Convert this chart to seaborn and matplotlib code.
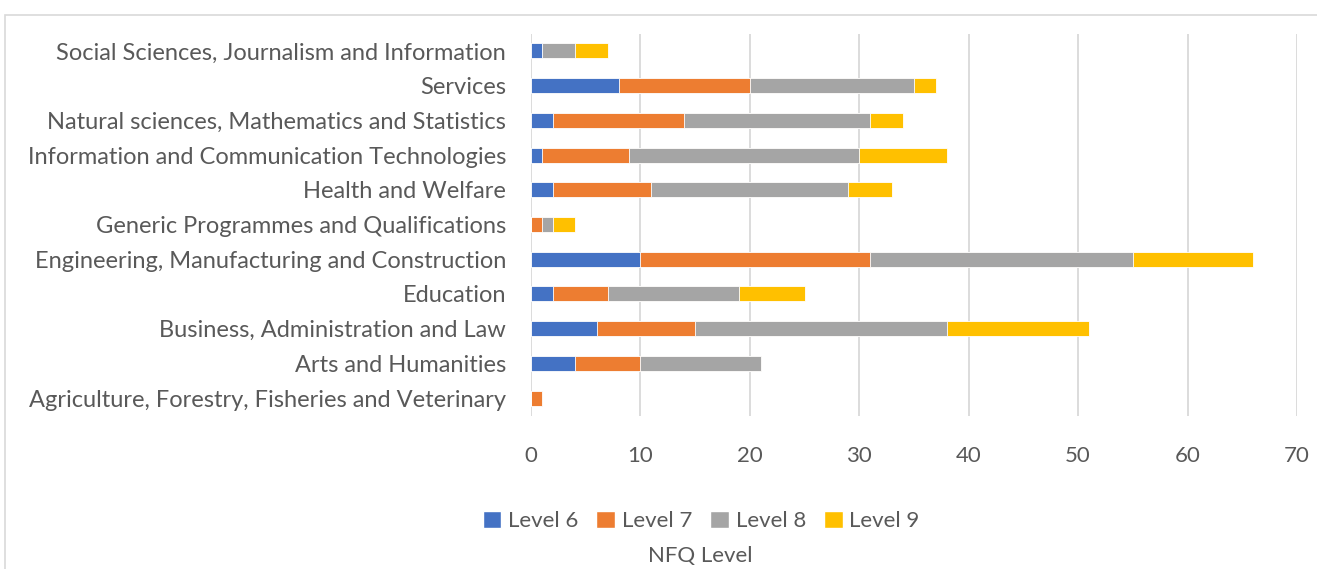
import numpy as np
import pandas as pd
import seaborn as sns
import matplotlib.pyplot as plt
from matplotlib.patches import Patch, Rectangle

# data, top to bottom as shown in the chart
fields = ["Social Sciences, Journalism and Information",
          "Services",
          "Natural sciences, Mathematics and Statistics",
          "Information and Communication Technologies",
          "Health and Welfare",
          "Generic Programmes and Qualifications",
          "Engineering, Manufacturing and Construction",
          "Education",
          "Business, Administration and Law",
          "Arts and Humanities",
          "Agriculture, Forestry, Fisheries and Veterinary"]
level6 = [1, 8, 2, 1, 2, 0, 10, 2, 6, 4, 0]
level7 = [0, 12, 12, 8, 9, 1, 21, 5, 9, 6, 1]
level8 = [3, 15, 17, 21, 18, 1, 24, 12, 23, 11, 0]
level9 = [3, 2, 3, 8, 4, 2, 11, 6, 13, 0, 0]
levels = ["Level 6", "Level 7", "Level 8", "Level 9"]
colors = ["#4472C4", "#ED7D31", "#A5A5A5", "#FFC000"]

sns.set_style("white")
plt.rcParams['font.family'] = ['Lato', 'DejaVu Sans']
txt = "#595959"
fs = 16

df = pd.DataFrame({"field": fields, "Level 6": level6, "Level 7": level7,
                   "Level 8": level8, "Level 9": level9})
cum = df[levels].cumsum(axis=1)
cum["field"] = df["field"]

fig = plt.figure(figsize=(13.17, 5.69), dpi=100)
ax = fig.add_axes([531/1317, 1-415.5/569, (1297-531)/1317, (415.5-33.5)/569])

# draw stacked bars from the total down so each layer sits on top of the previous
for lev, col in reversed(list(zip(levels, colors))):
    sns.barplot(data=cum, x=lev, y="field", order=fields, color=col, saturation=1,
                width=0.43, edgecolor="white", linewidth=0.6, ax=ax, zorder=3)

ax.set_xlim(0, 70)
ax.set_xticks(range(0, 71, 10))
ax.set_ylim(10.5, -0.5)
ax.grid(axis="x", color="#d9d9d9", linewidth=1.3, zorder=0)
ax.set_axisbelow(True)
for s in ax.spines.values():
    s.set_visible(False)
ax.set_xlabel("")
ax.set_ylabel("")
ax.tick_params(axis="y", length=0, pad=18, labelsize=17, labelcolor=txt)
ax.tick_params(axis="x", length=0, pad=22, labelsize=fs, labelcolor=txt)

handles = [Patch(facecolor=c, label=l) for l, c in zip(levels, colors)]
fig.legend(handles=handles, loc="center", bbox_to_anchor=(701/1317, 1-521/569),
           ncol=4, frameon=False, fontsize=fs, labelcolor=txt,
           handlelength=0.85, handleheight=0.85, handletextpad=0.3, columnspacing=0.8)
fig.text(700/1317, 1-556/569, "NFQ Level", ha="center", va="center",
         fontsize=fs, color=txt)

fig.patches.append(Rectangle((5/1317, -0.05), 1.1, 1-15/569+0.05,
                             transform=fig.transFigure, fill=False,
                             edgecolor="#d9d9d9", linewidth=1.2))

fig.savefig("out.png", dpi=100)
